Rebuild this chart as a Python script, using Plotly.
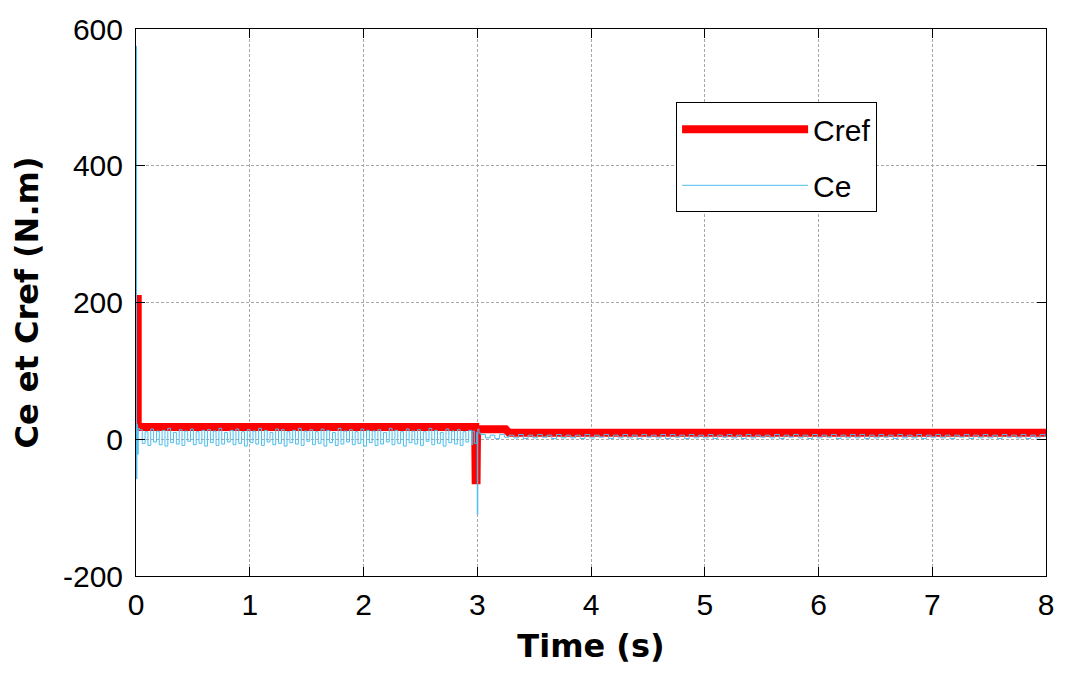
import numpy as np
import plotly.graph_objects as go

# ---------------- data ----------------
# Cref: reference torque (N.m)
cref_t = [0.0, 0.015, 0.015, 2.982, 2.986, 2.994, 2.998, 3.25, 3.28, 8.0]
cref_v = [205, 205, 18, 18, -60, -60, 14.5, 14.5, 9.5, 9.5]

# Ce: start-up transient (N.m)
ce_start_t = [0.0, 0.002, 0.004, 0.008, 0.012, 0.02]
ce_start_v = [0, 575, -58, 22, -22, 16]

# Ce: ripple between 0.03 s and 2.95 s
ce_pre_v = [14, -6, 11, -9, 15, -4, 12, -8, 13, -10, 16, -5, 10, -7, 14, -9, 12, -3, 15, -8,
            11, -6, 13, -10, 14, -5, 12, -9, 16, -7, 10, -4, 13, -8, 15, -6, 11, -10, 14, -5,
            12, -7, 16, -9, 13, -4, 10, -8, 15, -6, 14, -10, 11, -5, 13, -7, 16, -9, 12, -3,
            14, -8, 11, -6, 15, -10, 13, -5, 10, -9, 16, -7, 12, -4, 14, -8, 11, -6, 15, -10,
            13, -5, 12, -9, 14, -7, 10, -4, 16, -8, 13, -6, 11, -10, 15, -5, 12, -7, 14, -9,
            11, -3, 16, -8, 13, -6, 10, -10, 15, -5, 12, -7, 14, -9, 11, -4, 13, -8]

# Ce: load-change transient around 3 s
ce_mid_t = [2.96, 2.975, 2.995, 3.0, 3.005, 3.015]
ce_mid_v = [12, -6, 10, -110, 15, 9]

# Ce: ripple between 3.03 s and 7.99 s
ce_post_v = [7, 2, 6, 1, 7, 3, 6, 2, 7, 1, 6, 2, 7, 3, 6, 1, 7, 2, 6, 2,
             6, 1, 7, 2, 6, 3, 7, 1, 6, 2, 7, 2, 6, 1, 7, 3, 6, 2, 7, 1,
             7, 3, 6, 1, 7, 2, 6, 2, 7, 1, 6, 3, 7, 2, 6, 1, 7, 2, 6, 3,
             6, 2, 7, 1, 6, 3, 7, 2, 6, 1, 7, 2, 6, 3, 7, 1, 6, 2, 7, 2,
             7, 1, 6, 2, 7, 3, 6, 1, 7, 2, 6, 2, 7, 1, 6, 3, 7, 2, 6, 1,
             6, 3, 7, 1, 6, 2, 7, 2, 6, 1, 7, 3, 6, 2, 7, 1, 6, 2, 7, 3]

x_ticks = [0, 1, 2, 3, 4, 5, 6, 7, 8]
y_ticks = [-200, 0, 200, 400, 600]

# ---------------- assemble Ce series ----------------
ce_pre_t = list(np.linspace(0.03, 2.95, len(ce_pre_v)))
ce_post_t = list(np.linspace(3.03, 7.99, len(ce_post_v)))
ce_t = ce_start_t + ce_pre_t + ce_mid_t + ce_post_t
ce_v = ce_start_v + ce_pre_v + ce_mid_v + ce_post_v

fig = go.Figure()
fig.add_trace(go.Scatter(x=cref_t, y=cref_v, mode="lines", name="Cref",
                         line=dict(color="#FF0000", width=8),
                         legendgroup="a"))
fig.add_trace(go.Scatter(x=ce_t, y=ce_v, mode="lines", name="Ce",
                         line=dict(color="#4DBEEE", width=1, shape="hv"),
                         legendgroup="b"))

tickfont = dict(family="Liberation Sans, Arial, sans-serif", size=30, color="black")
titlefont = dict(family="DejaVu Sans, sans-serif", size=32, color="black", weight="bold")

fig.update_layout(
    width=1066, height=678,
    margin=dict(l=136, r=18, t=24, b=102),
    paper_bgcolor="white", plot_bgcolor="white",
    showlegend=True,
    legend=dict(x=0.5935, y=0.866, xanchor="left", yanchor="top",
                bgcolor="white", bordercolor="black", borderwidth=1,
                font=dict(family="Liberation Sans, Arial, sans-serif", size=30, color="black"),
                itemwidth=126, traceorder="grouped", tracegroupgap=14,
                entrywidth=212, entrywidthmode="pixels"),
    xaxis=dict(range=[0, 8], tickvals=x_ticks, ticktext=[str(v) for v in x_ticks],
               showline=True, linecolor="black", linewidth=1, mirror="ticks",
               ticks="inside", ticklen=9, tickcolor="black",
               showgrid=True, gridcolor="#a8a8a8", gridwidth=1, griddash="3px,2px",
               zeroline=False, tickfont=tickfont, ticklabelstandoff=2,
               title=dict(text="Time (s)", font=titlefont, standoff=14)),
    yaxis=dict(range=[-200, 600], tickvals=y_ticks, ticktext=[str(v) for v in y_ticks],
               showline=True, linecolor="black", linewidth=1, mirror="ticks",
               ticks="inside", ticklen=9, tickcolor="black",
               showgrid=True, gridcolor="#a8a8a8", gridwidth=1, griddash="3px,2px",
               zeroline=False, tickfont=tickfont, ticklabelstandoff=6,
               title=dict(text="Ce et Cref (N.m)", font=titlefont, standoff=14)),
)

fig.write_html("out.html")
